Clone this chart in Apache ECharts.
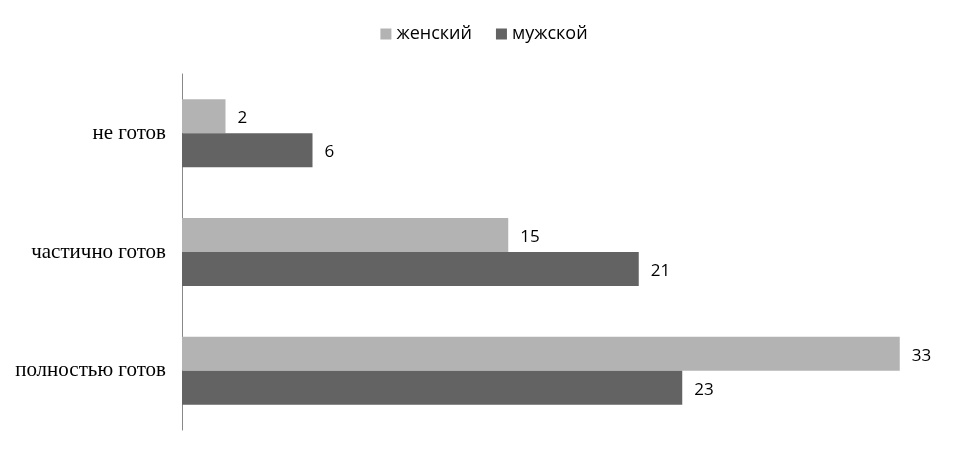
<!DOCTYPE html>
<html><head><meta charset="utf-8">
<script src="https://cdn.jsdelivr.net/npm/echarts@6/dist/echarts.min.js"></script>
<style>html,body{margin:0;padding:0;background:#fff}#c{width:968px;height:452px}</style>
</head><body><div id="c"></div>
<script>
const categories = ['не готов', 'частично готов', 'полностью готов'];
const female = [2, 15, 33];
const male = [6, 21, 23];
const seriesNames = ['женский', 'мужской'];

const chart = echarts.init(document.getElementById('c'), null, {renderer: 'canvas'});
const labelStyle = {show: true, position: 'right', distance: 12, offset: [0, 2], color: '#000', fontFamily: 'Open Sans, Liberation Sans, sans-serif', fontSize: 17};
chart.setOption({
  animation: false,
  legend: {
    top: 20, left: 'center', itemWidth: 11, itemHeight: 11, itemGap: 24,
    icon: 'rect',
    textStyle: {fontFamily: 'Open Sans, Liberation Sans, sans-serif', fontSize: 18, color: '#000'},
    data: seriesNames
  },
  grid: {left: 182, top: 74, width: 783, height: 356, containLabel: false},
  xAxis: {type: 'value', min: 0, max: 36, show: false},
  yAxis: {
    type: 'category', data: categories, inverse: true,
    axisLine: {show: true, lineStyle: {color: '#888', width: 1}},
    axisTick: {show: false},
    axisLabel: {margin: 16, color: '#000', fontFamily: 'Liberation Serif, Times New Roman, serif', fontSize: 21, padding: [12, 0, 0, 0]}
  },
  series: [
    {name: seriesNames[0], type: 'bar', data: female, barWidth: 34, barGap: '0%', itemStyle: {color: '#b3b3b3'}, label: labelStyle},
    {name: seriesNames[1], type: 'bar', data: male, barWidth: 34, barGap: '0%', itemStyle: {color: '#636363'}, label: labelStyle}
  ]
});
</script></body></html>
